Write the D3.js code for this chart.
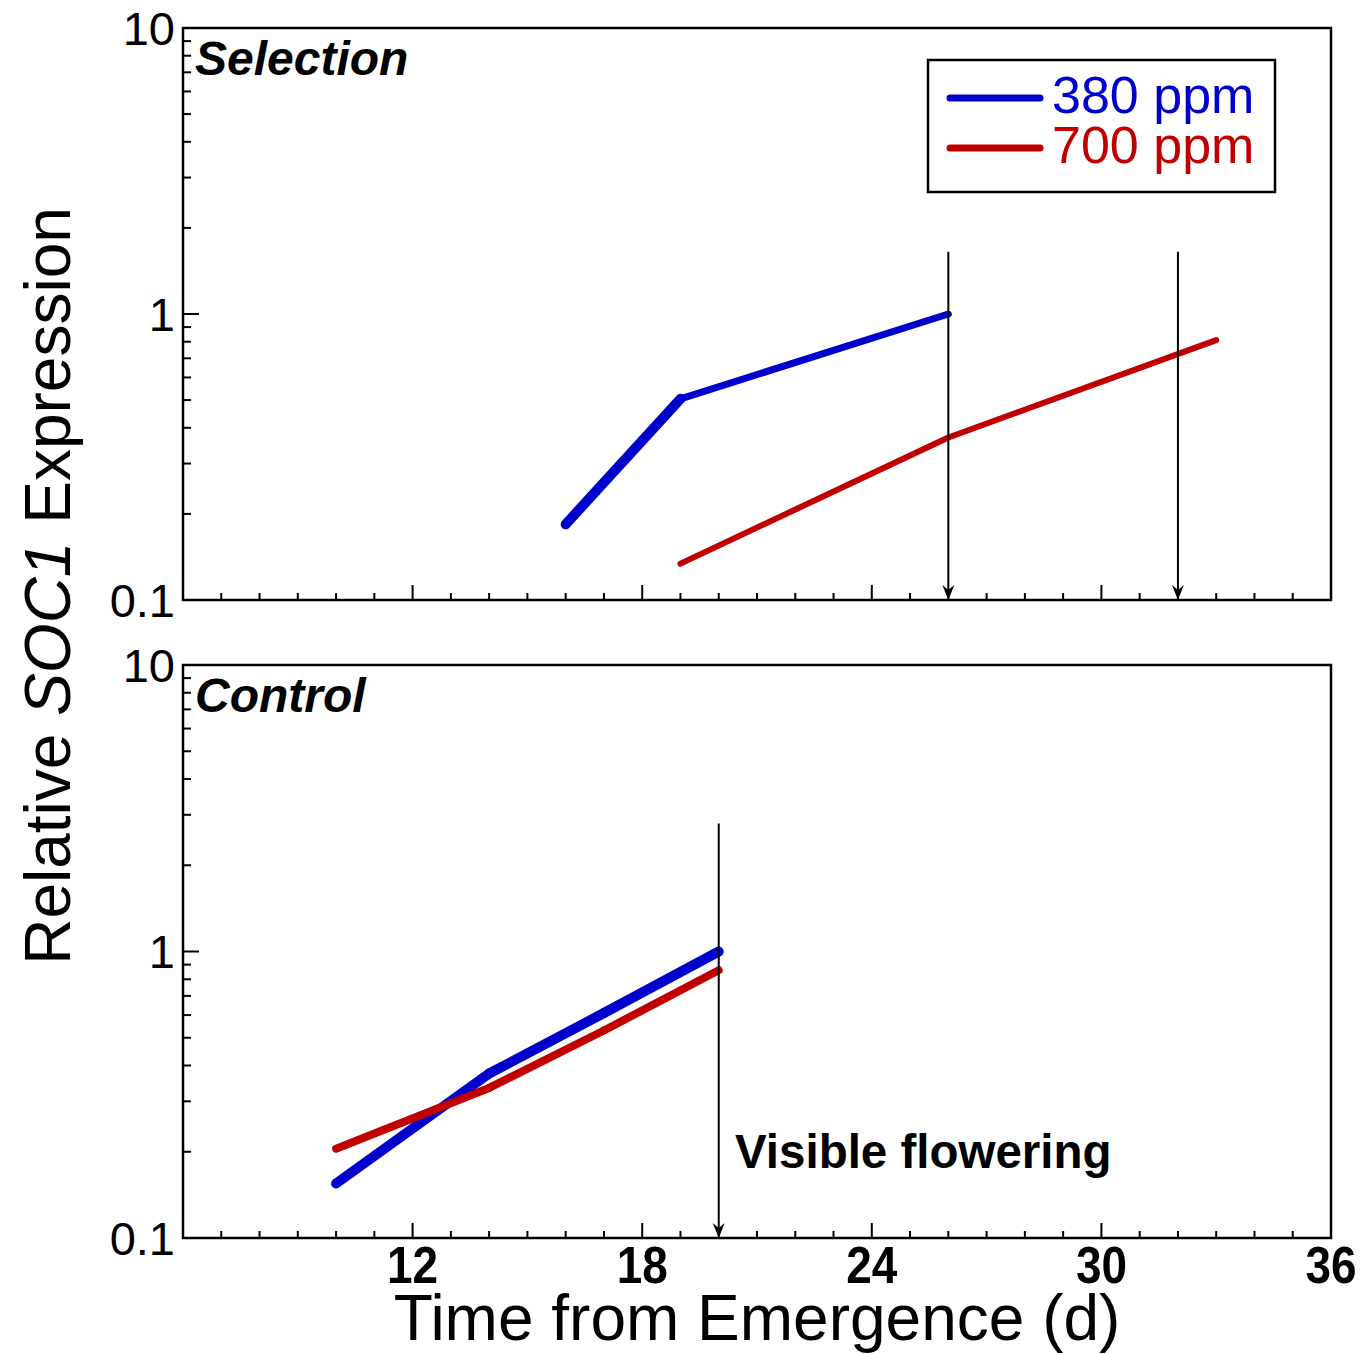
<!DOCTYPE html>
<html><head><meta charset="utf-8">
<script src="https://cdn.jsdelivr.net/npm/d3@7"></script>
<style>
body{margin:0;background:#fff;}
svg{display:block;font-family:"Liberation Sans",Arial,sans-serif;}
</style></head>
<body>
<svg id="c" width="1363" height="1354"></svg>
<script>
// ---- data ----
const panels = ["Selection", "Control"];
const seriesNames = ["380 ppm", "700 ppm"];
const seriesColors = ["#0000CC", "#C00000"];
// Selection panel
const selDays380 = [16, 19, 26];
const selVals380 = [0.184, 0.505, 1.0];
const selDays700 = [19, 26, 33];
const selVals700 = [0.134, 0.37, 0.81];
// Control panel
const ctlDays380 = [10, 14, 17, 20];
const ctlVals380 = [0.155, 0.375, 0.61, 1.0];
const ctlDays700 = [10, 14, 17, 20];
const ctlVals700 = [0.205, 0.334, 0.53, 0.86];
// flowering arrows (day, top value)
const selArrowDays = [26, 32];
const selArrowTop = [1.65, 1.65];
const ctlArrowDays = [20];
const ctlArrowTop = [2.8];
const xMajorTicks = [12, 18, 24, 30, 36];
const yMajorTicks = [0.1, 1, 10];
const yTickLabels = ["0.1", "1", "10"];

// ---- layout / style ----
const svg = d3.select("#c");
const left = 183, right = 1331;
const panelBox = [{top: 28, bottom: 600}, {top: 665, bottom: 1238}];
const x = d3.scaleLinear().domain([6, 36]).range([left, right]);
// per-segment stroke widths
const panelData = [
  {s: [[selDays380, selVals380], [selDays700, selVals700]], w: [[10, 7], [6, 6]], arrows: [selArrowDays, selArrowTop]},
  {s: [[ctlDays380, ctlVals380], [ctlDays700, ctlVals700]], w: [[10, 10, 10], [8, 8, 8]], arrows: [ctlArrowDays, ctlArrowTop]}
];

const minorX = d3.range(7, 36).filter(d => !xMajorTicks.includes(d));
const minorY = [];
[0.1, 1].forEach(dec => { for (let k = 2; k <= 9; k++) minorY.push(dec * k); });

panels.forEach((name, pi) => {
  const box = panelBox[pi];
  const y = d3.scaleLog().domain([0.1, 10]).range([box.bottom, box.top]);
  const g = svg.append("g");

  // frame
  g.append("rect").attr("x", left).attr("y", box.top)
    .attr("width", right - left).attr("height", box.bottom - box.top)
    .attr("fill", "none").attr("stroke", "#000").attr("stroke-width", 2.5);

  // x ticks (inward)
  g.selectAll(".xmin").data(minorX).join("line")
    .attr("x1", d => x(d)).attr("x2", d => x(d))
    .attr("y1", box.bottom).attr("y2", box.bottom - 7)
    .attr("stroke", "#000").attr("stroke-width", 2);
  g.selectAll(".xmaj").data(xMajorTicks.filter(d => d < 36)).join("line")
    .attr("x1", d => x(d)).attr("x2", d => x(d))
    .attr("y1", box.bottom).attr("y2", box.bottom - 15)
    .attr("stroke", "#000").attr("stroke-width", 2);
  // y ticks (inward)
  g.selectAll(".ymin").data(minorY).join("line")
    .attr("x1", left).attr("x2", left + 8)
    .attr("y1", d => y(d)).attr("y2", d => y(d))
    .attr("stroke", "#000").attr("stroke-width", 2);
  g.selectAll(".ymaj").data([1]).join("line")
    .attr("x1", left).attr("x2", left + 16)
    .attr("y1", d => y(d)).attr("y2", d => y(d))
    .attr("stroke", "#000").attr("stroke-width", 2);
  // y tick labels
  g.selectAll(".ylab").data(yMajorTicks).join("text")
    .attr("x", left - 8).attr("y", d => y(d)).attr("dy", "0.36em")
    .attr("text-anchor", "end").attr("font-size", 47)
    .text((d, i) => yTickLabels[i]);

  // series, drawn segment by segment
  panelData[pi].s.forEach((sv, si) => {
    const pts = sv[0].map((d, i) => [d, sv[1][i]]);
    const segs = d3.pairs(pts);
    g.selectAll(null).data(segs).join("line")
      .attr("x1", d => x(d[0][0])).attr("y1", d => y(d[0][1]))
      .attr("x2", d => x(d[1][0])).attr("y2", d => y(d[1][1]))
      .attr("stroke", seriesColors[si])
      .attr("stroke-width", (d, i) => panelData[pi].w[si][i])
      .attr("stroke-linecap", "round");
  });

  // arrows
  const [aDays, aTop] = panelData[pi].arrows;
  aDays.forEach((d, i) => {
    const ax = x(d), y0 = y(aTop[i]), y1 = y(0.1);
    g.append("line").attr("x1", ax).attr("x2", ax).attr("y1", y0).attr("y2", y1 - 4)
      .attr("stroke", "#000").attr("stroke-width", 2);
    g.append("path")
      .attr("d", `M${ax},${y1} L${ax - 6},${y1 - 15} L${ax},${y1 - 10} L${ax + 6},${y1 - 15} Z`)
      .attr("fill", "#000");
  });

  // panel label
  g.append("text").attr("x", left + 12).attr("y", box.top + 47)
    .attr("font-size", 48).attr("font-weight", "bold").attr("font-style", "italic")
    .text(name);
});

// x tick labels (bottom panel only)
const xb = panelBox[1].bottom;
svg.selectAll(".xlab").data(xMajorTicks).join("text")
  .attr("transform", d => `translate(${x(d)},${xb + 45}) scale(0.9,1)`)
  .attr("text-anchor", "middle").attr("font-size", 51).attr("font-weight", "bold")
  .text(d => d);

// axis titles
svg.append("text").attr("x", 757).attr("y", 1340)
  .attr("text-anchor", "middle").attr("font-size", 64)
  .text("Time from Emergence (d)");
const yt = svg.append("text").attr("transform", "translate(70,586) rotate(-90)")
  .attr("text-anchor", "middle").attr("font-size", 64);
yt.append("tspan").text("Relative ");
yt.append("tspan").attr("font-style", "italic").text("SOC1");
yt.append("tspan").text(" Expression");

// visible flowering label
svg.append("text").attr("x", 735).attr("y", 1168)
  .attr("font-size", 47.5).attr("font-weight", "bold")
  .text("Visible flowering");

// legend
const lg = svg.append("g");
lg.append("rect").attr("x", 928).attr("y", 60).attr("width", 347).attr("height", 132)
  .attr("fill", "#fff").attr("stroke", "#000").attr("stroke-width", 2.5);
seriesNames.forEach((n, i) => {
  const ly = 98 + i * 50;
  lg.append("line").attr("x1", 950).attr("x2", 1040).attr("y1", ly).attr("y2", ly)
    .attr("stroke", seriesColors[i]).attr("stroke-width", 7).attr("stroke-linecap", "round");
  lg.append("text").attr("x", 1052).attr("y", ly + 15)
    .attr("font-size", 52).attr("fill", seriesColors[i]).text(n);
});
</script>
</body></html>
